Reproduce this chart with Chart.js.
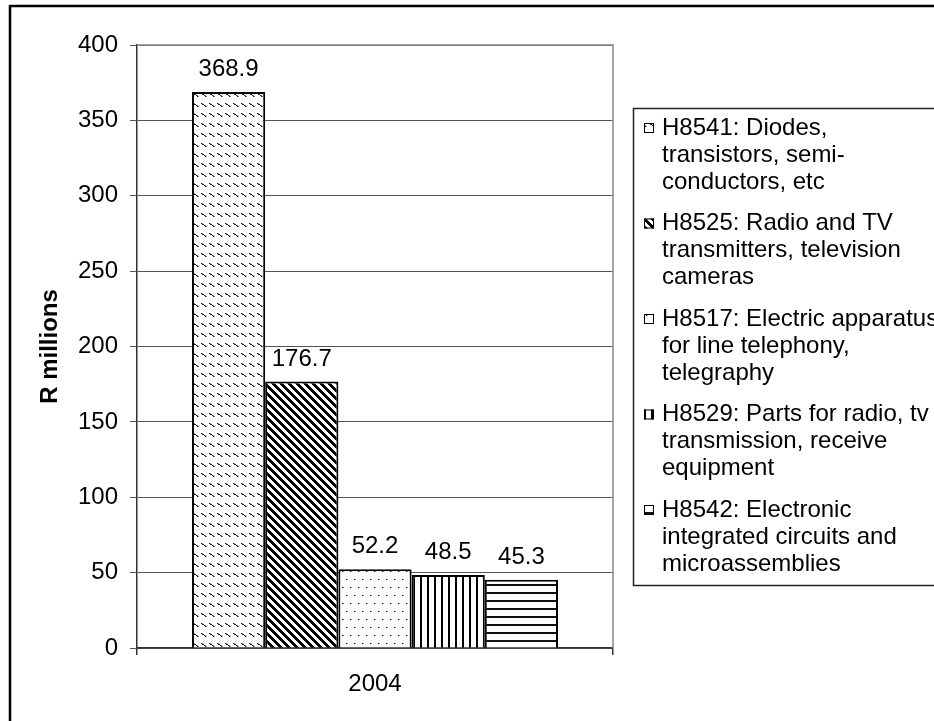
<!DOCTYPE html>
<html>
<head>
<meta charset="utf-8">
<script src="https://cdn.jsdelivr.net/npm/chart.js@4.4.1/dist/chart.umd.min.js"></script>
<style>
  html, body { margin: 0; padding: 0; background: #fff; overflow: hidden; }
  canvas { display: block; }
</style>
</head>
<body>
<canvas id="chart" width="934" height="721"></canvas>
<script>
// data
var categories = ['2004'];
var seriesLabels = [
  ['H8541: Diodes,', 'transistors, semi-', 'conductors, etc'],
  ['H8525: Radio and TV', 'transmitters, television', 'cameras'],
  ['H8517: Electric apparatus', 'for line telephony,', 'telegraphy'],
  ['H8529: Parts for radio, tv', 'transmission, receive', 'equipment'],
  ['H8542: Electronic', 'integrated circuits and', 'microassemblies']
];
var values2004 = [368.9, 176.7, 52.2, 48.5, 45.3];
var patternKinds = ['dashdiag', 'stripes', 'dots', 'vlines', 'hlines'];
var yMin = 0, yMax = 400, yStep = 50;
var yTitle = 'R millions';

var FONT = '"Liberation Sans", Arial, sans-serif';

function makePattern(kind) {
  var c = document.createElement('canvas');
  var w = 8, h = 8;
  if (kind === 'dashdiag') { w = 8; h = 10; }
  if (kind === 'dots') { w = 8; h = 16; }
  if (kind === 'vlines') { w = 7; h = 1; }
  if (kind === 'hlines') { w = 1; h = 8; }
  c.width = w; c.height = h;
  var g = c.getContext('2d');
  g.fillStyle = '#fff';
  g.fillRect(0, 0, w, h);
  if (kind === 'dashdiag') {
    g.fillStyle = '#1a1a1a';
    [[1, 3], [2, 4], [3, 4], [4, 5], [5, 6]].forEach(function(p) { g.fillRect(p[0], p[1], 1, 1); });
    g.fillStyle = '#888';
    [[2, 3], [5, 5], [6, 6]].forEach(function(p) { g.fillRect(p[0], p[1], 1, 1); });
  } else if (kind === 'stripes') {
    g.fillStyle = '#000';
    for (var x = 0; x < w; x++) {
      for (var y = 0; y < h; y++) {
        if (((x - y) % 8 + 8) % 8 < 4) g.fillRect(x, y, 1, 1);
      }
    }
  } else if (kind === 'dots') {
    g.fillStyle = '#000';
    g.fillRect(2, 3, 1, 1);
    g.fillRect(6, 11, 1, 1);
    g.fillStyle = '#999';
    g.fillRect(3, 3, 1, 1);
    g.fillRect(7, 11, 1, 1);
  } else if (kind === 'vlines') {
    g.fillStyle = '#000';
    g.fillRect(0, 0, 2, 1);
  } else if (kind === 'hlines') {
    g.fillStyle = '#111';
    g.fillRect(0, 0, 1, 2);
  }
  return g.createPattern(c, 'repeat');
}

var datasets = [];
for (var i = 0; i < values2004.length; i++) {
  datasets.push({
    label: seriesLabels[i].join(' '),
    legendLines: seriesLabels[i],
    data: [values2004[i]],
    backgroundColor: makePattern(patternKinds[i]),
    borderColor: '#000',
    borderWidth: 2
  });
}

var frame = {
  id: 'frame',
  beforeDatasetsDraw: function(chart) {
    var a = chart.chartArea, ctx = chart.ctx;
    ctx.save();
    ctx.strokeStyle = '#888';
    ctx.lineWidth = 1.5;
    ctx.beginPath();
    ctx.moveTo(a.left, a.top);
    ctx.lineTo(a.right, a.top);
    ctx.lineTo(a.right, a.bottom);
    ctx.stroke();
    ctx.restore();
  },
  afterDatasetsDraw: function(chart) {
    var ctx = chart.ctx;
    ctx.save();
    ctx.font = '24px ' + FONT;
    ctx.fillStyle = '#000';
    ctx.textAlign = 'center';
    ctx.textBaseline = 'alphabetic';
    chart.data.datasets.forEach(function(ds, di) {
      var bar = chart.getDatasetMeta(di).data[0];
      ctx.fillText(ds.data[0].toFixed(1), bar.x, bar.y - 16);
    });
    ctx.restore();
  },
  afterDraw: function(chart) {
    var ctx = chart.ctx;
    ctx.save();
    // side legend
    ctx.strokeStyle = '#222';
    ctx.lineWidth = 1.5;
    ctx.strokeRect(633.5, 108.5, 400, 477);
    ctx.font = '24px ' + FONT;
    ctx.textAlign = 'left';
    ctx.textBaseline = 'middle';
    var y0 = 128, lh = 27, period = 95.5;
    chart.data.datasets.forEach(function(ds, di) {
      var y = y0 + di * period;
      ctx.fillStyle = ds.backgroundColor;
      ctx.fillRect(644, y - 5, 10, 10);
      ctx.strokeStyle = '#000';
      ctx.lineWidth = 1;
      ctx.strokeRect(644.5, y - 4.5, 9, 9);
      ctx.fillStyle = '#000';
      ds.legendLines.forEach(function(t, li) {
        ctx.fillText(t, 662, y + li * lh);
      });
    });
    // outer border
    ctx.strokeStyle = '#000';
    ctx.lineWidth = 2.5;
    ctx.strokeRect(10, 6, 1000, 1000);
    ctx.restore();
  }
};

var ctx = document.getElementById('chart').getContext('2d');
var chart = new Chart(ctx, {
  type: 'bar',
  data: { labels: categories, datasets: datasets },
  options: {
    responsive: false,
    animation: false,
    devicePixelRatio: 1,
    layout: { padding: { left: 0, top: 45, right: 321, bottom: 0 } },
    datasets: { bar: { categoryPercentage: 0.769, barPercentage: 1 } },
    plugins: { legend: { display: false }, tooltip: { enabled: false } },
    scales: {
      x: {
        offset: true,
        grid: { offset: true, drawOnChartArea: false, drawTicks: true, tickLength: 7, color: '#333', lineWidth: 1.5 },
        border: { color: '#333', width: 1.5 },
        ticks: { color: '#000', font: { family: FONT, size: 24 }, padding: 15 },
        afterFit: function(s) { s.height = 73; }
      },
      y: {
        min: yMin,
        max: yMax,
        ticks: { stepSize: yStep, color: '#000', font: { family: FONT, size: 24 }, padding: 12 },
        grid: { color: '#555', lineWidth: 1, tickLength: 7 },
        border: { color: '#333', width: 1.5 },
        title: {
          display: true,
          text: yTitle,
          color: '#000',
          font: { family: FONT, size: 24, weight: 'bold' },
          padding: { top: 36, bottom: 0 }
        },
        afterFit: function(s) { s.width = 137; }
      }
    }
  },
  plugins: [frame]
});
</script>
</body>
</html>
